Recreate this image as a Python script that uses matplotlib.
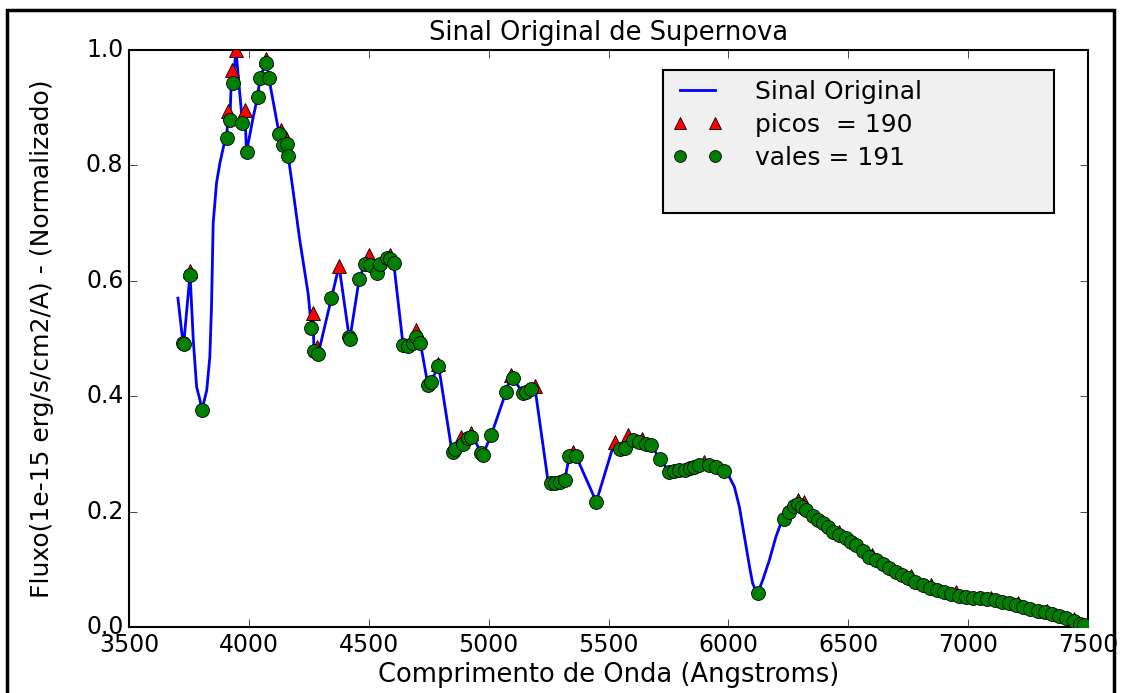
import matplotlib
matplotlib.use("Agg")
import matplotlib.pyplot as plt
from matplotlib.patches import Rectangle
from matplotlib.lines import Line2D

# shape points of the spectrum that are not peaks/valleys (Angstrom, normalised flux)
curve_x = [3704, 3768, 3782, 3796, 3824, 3837, 3844, 3851, 3865, 3879, 3900, 4018,
           4184, 4212, 4247, 4844, 5247,
           6004, 6025, 6046, 6060, 6074, 6088, 6101, 6115, 6143, 6171, 6198, 6219, 7495]
curve_y = [0.570, 0.497, 0.416, 0.393, 0.410, 0.468, 0.555, 0.700, 0.770, 0.804, 0.844, 0.884,
           0.757, 0.671, 0.578, 0.312, 0.255,
           0.260, 0.243, 0.208, 0.174, 0.139, 0.105, 0.076, 0.062, 0.081, 0.116, 0.156, 0.180, 0.001]

# peaks (picos)
peak_x = [3754, 3914, 3928, 3946, 3983, 4071, 4132, 4154, 4268, 4282, 4376, 4500,
          4590, 4696, 4790, 4886, 4928, 5094, 5192, 5350, 5525, 5581, 5640, 5900,
          6289, 6317, 6460, 6600, 6760, 6844, 6950, 7095, 7210, 7330, 7440]
peak_y = [0.617, 0.894, 0.966, 1.000, 0.896, 0.985, 0.861, 0.847, 0.544, 0.486, 0.626, 0.645,
          0.644, 0.515, 0.456, 0.330, 0.336, 0.437, 0.418, 0.304, 0.321, 0.333, 0.326, 0.286,
          0.221, 0.217, 0.165, 0.125, 0.088, 0.072, 0.060, 0.051, 0.041, 0.028, 0.014]

# valleys (vales)
valley_x = [3725, 3728, 3754, 3804, 3907, 3921, 3934, 3973, 3990, 4036, 4046, 4071,
            4083, 4126, 4143, 4160, 4164, 4261, 4271, 4289, 4344, 4418, 4421, 4460,
            4483, 4504, 4535, 4546, 4574, 4588, 4604, 4643, 4664, 4685, 4698, 4715,
            4747, 4761, 4788, 4851, 4858, 4893, 4914, 4928, 4969, 4976, 5011, 5073,
            5101, 5143, 5157, 5178, 5260, 5275, 5296, 5317, 5337, 5365, 5449, 5546,
            5567, 5601, 5629, 5657, 5678, 5713, 5754, 5775, 5796, 5817, 5838, 5858,
            5879, 5921, 5948, 5983, 6122,
            6233, 6254, 6275, 6289, 6305, 6323, 6351, 6372, 6393, 6414, 6435, 6462,
            6490, 6510, 6532, 6560, 6588, 6615, 6643, 6670, 6698, 6725, 6750, 6780,
            6810, 6840, 6870, 6900, 6930, 6960, 6990, 7020, 7050, 7080, 7110, 7140,
            7170, 7200, 7230, 7260, 7290, 7320, 7350, 7380, 7410, 7440, 7465, 7485]
valley_y = [0.492, 0.490, 0.610, 0.376, 0.847, 0.879, 0.943, 0.873, 0.823, 0.918, 0.952, 0.978,
            0.952, 0.855, 0.835, 0.837, 0.816, 0.518, 0.479, 0.473, 0.570, 0.503, 0.499, 0.603,
            0.629, 0.627, 0.613, 0.629, 0.639, 0.638, 0.631, 0.489, 0.487, 0.493, 0.503, 0.493,
            0.419, 0.425, 0.452, 0.304, 0.308, 0.318, 0.327, 0.330, 0.301, 0.299, 0.333, 0.408,
            0.431, 0.406, 0.408, 0.412, 0.249, 0.250, 0.252, 0.255, 0.296, 0.296, 0.217, 0.308,
            0.310, 0.324, 0.321, 0.318, 0.315, 0.292, 0.269, 0.270, 0.272, 0.273, 0.275, 0.277,
            0.281, 0.281, 0.278, 0.271, 0.059,
            0.188, 0.200, 0.209, 0.214, 0.208, 0.203, 0.192, 0.186, 0.180, 0.173, 0.165, 0.160,
            0.154, 0.148, 0.142, 0.132, 0.122, 0.116, 0.110, 0.103, 0.096, 0.090, 0.085, 0.078,
            0.072, 0.067, 0.064, 0.060, 0.058, 0.054, 0.052, 0.051, 0.050, 0.049, 0.046, 0.043,
            0.041, 0.038, 0.035, 0.031, 0.028, 0.026, 0.022, 0.019, 0.015, 0.011, 0.006, 0.003]

n_picos = 190
n_vales = 191

# the signal passes through every shape point, peak and valley
pts = sorted(zip(curve_x + peak_x + valley_x, curve_y + peak_y + valley_y))
sig_x = [p[0] for p in pts]
sig_y = [p[1] for p in pts]

plt.style.use('classic')
plt.rcParams['font.family'] = ['DejaVu Sans']

fig = plt.figure(figsize=(11.22, 6.93), dpi=100)
fig.patch.set_facecolor('white')
ax = fig.add_axes([0.115, 0.0952, 0.8547, 0.8326])

ax.plot(sig_x, sig_y, color='b', lw=2, label='Sinal Original', zorder=2)
ax.plot(peak_x, peak_y, '^', color='r', ms=10, mec='k', mew=0.6,
        label='picos  = %d' % n_picos, zorder=3)
ax.plot(valley_x, valley_y, 'o', color='g', ms=10, mec='k', mew=0.6,
        label='vales = %d' % n_vales, zorder=4)

ax.set_xlim(3500, 7500)
ax.set_ylim(0.0, 1.0)
ax.set_xticks(range(3500, 7501, 500))
ax.set_yticks([0.0, 0.2, 0.4, 0.6, 0.8, 1.0])
ax.tick_params(labelsize=17, direction='in', length=6, top=True, right=True)
for s in ax.spines.values():
    s.set_linewidth(1.5)

ax.set_title('Sinal Original de Supernova', fontsize=18.5, pad=7)
ax.set_xlabel('Comprimento de Onda (Angstroms)', fontsize=18.5, labelpad=4)
ax.set_ylabel('Fluxo(1e-15 erg/s/cm2/A) - (Normalizado)', fontsize=18, labelpad=23)

blank = Line2D([], [], linestyle='none')
handles, labels = ax.get_legend_handles_labels()
leg = ax.legend(handles + [blank], labels + [' '], loc='upper left',
                bbox_to_anchor=(0.5568, 0.5, 0.4077, 0.4653), mode='expand',
                borderaxespad=0, numpoints=2, fontsize=18, fancybox=False,
                labelspacing=0.36, handletextpad=1.3, markerscale=0.85)
leg.get_frame().set_facecolor('#f0f0f0')
leg.get_frame().set_edgecolor('k')
leg.get_frame().set_linewidth(1.5)

# screenshot border around the figure
fig.patches.append(Rectangle((7 / 1122, -0.1), 1107 / 1122, 1.1 - 10 / 693,
                             transform=fig.transFigure, fill=False,
                             edgecolor='k', lw=2.5))

fig.savefig('out.png', dpi=100)
